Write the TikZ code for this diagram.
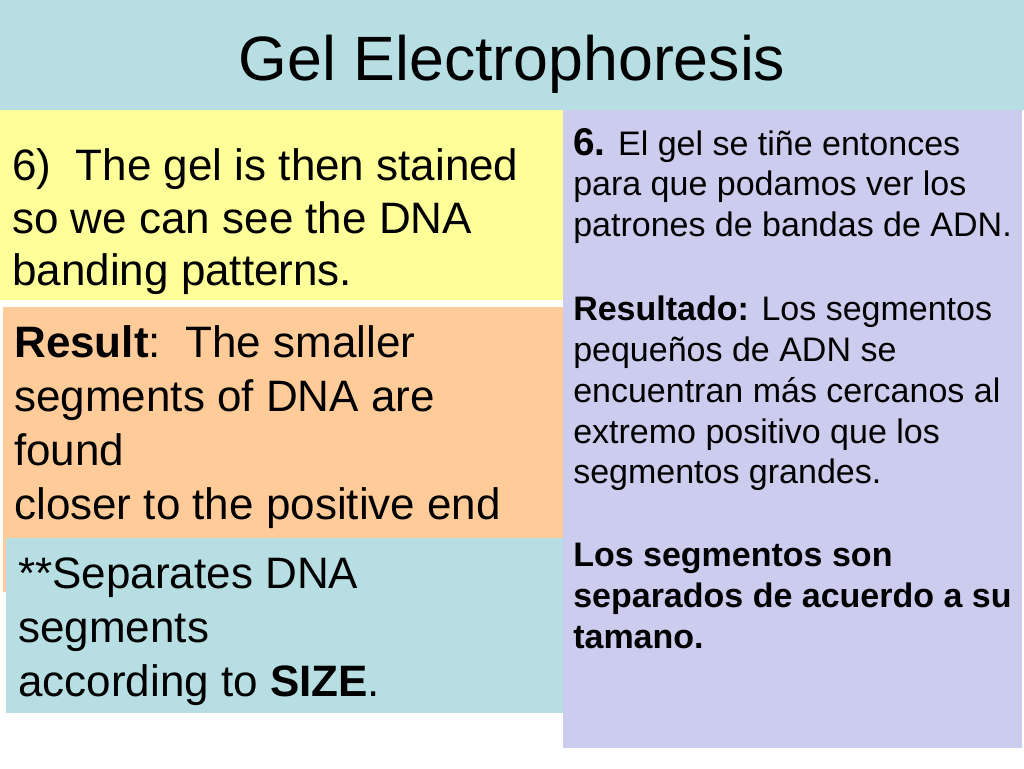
\documentclass[tikz,border=0pt]{standalone}
\usepackage{fontspec}
\setmainfont{Liberation Sans}
\definecolor{tblue}{HTML}{B7DFE3}
\definecolor{ylw}{HTML}{FFFF99}
\definecolor{org}{HTML}{FFCC99}
\definecolor{lav}{HTML}{CCCCEE}
\begin{document}
\begin{tikzpicture}[x=0.75pt,y=-0.75pt,
  big/.style={anchor=base west,inner sep=0pt,font=\fontsize{33}{38}\selectfont},
  sm/.style={anchor=base west,inner sep=0pt,font=\fontsize{25.5}{30}\selectfont}]
\useasboundingbox (0,0) rectangle (1024,768);
\fill[white] (0,0) rectangle (1024,768);
\fill[tblue] (0,0) rectangle (1024,110);
\fill[ylw] (0,110) rectangle (565,300);
\fill[org] (3,307) rectangle (563,592);
\fill[tblue] (6,538) rectangle (563,713);
\fill[lav] (563,110) rectangle (1022,748);
\node[anchor=base,inner sep=0pt,font=\fontsize{47}{52}\selectfont] (title) at (512,80) {Gel Electrophoresis};
\node[big] (y1) at (12,180) {6)\ \ The gel is then stained};
\node[big] (y2) at (12,233) {so we can see the DNA};
\node[big] (y3) at (12,285) {banding patterns.};
\node[big] (o1) at (14,357) {\textbf{Result}:\ \ The smaller};
\node[big] (o2) at (14,411) {segments of DNA are};
\node[big] (o3) at (14,465) {found};
\node[big] (o4) at (14,519) {closer to the positive end};
\node[big] (b1) at (18,588) {**Separates DNA};
\node[big] (b2) at (18,642) {segments};
\node[big] (b3) at (18,696) {according to \textbf{SIZE}.};
\node[sm] (r1) at (573,155) {{\fontsize{29}{32}\selectfont\textbf{6.}} El gel se tiñe entonces};
\node[sm] (r2) at (573,195) {para que podamos ver los};
\node[sm] (r3) at (573,236) {patrones de bandas de ADN.};
\node[sm] (r4) at (573,320) {\textbf{Resultado:} Los segmentos};
\node[sm] (r5) at (573,361) {pequeños de ADN se};
\node[sm] (r6) at (573,402) {encuentran más cercanos al};
\node[sm] (r7) at (573,443) {extremo positivo que los};
\node[sm] (r8) at (573,483) {segmentos grandes.};
\node[sm] (r9) at (573,566) {\textbf{Los segmentos son}};
\node[sm] (r10) at (573,607) {\textbf{separados de acuerdo a su}};
\node[sm] (r11) at (573,648) {\textbf{tamano.}};
\end{tikzpicture}
\end{document}
